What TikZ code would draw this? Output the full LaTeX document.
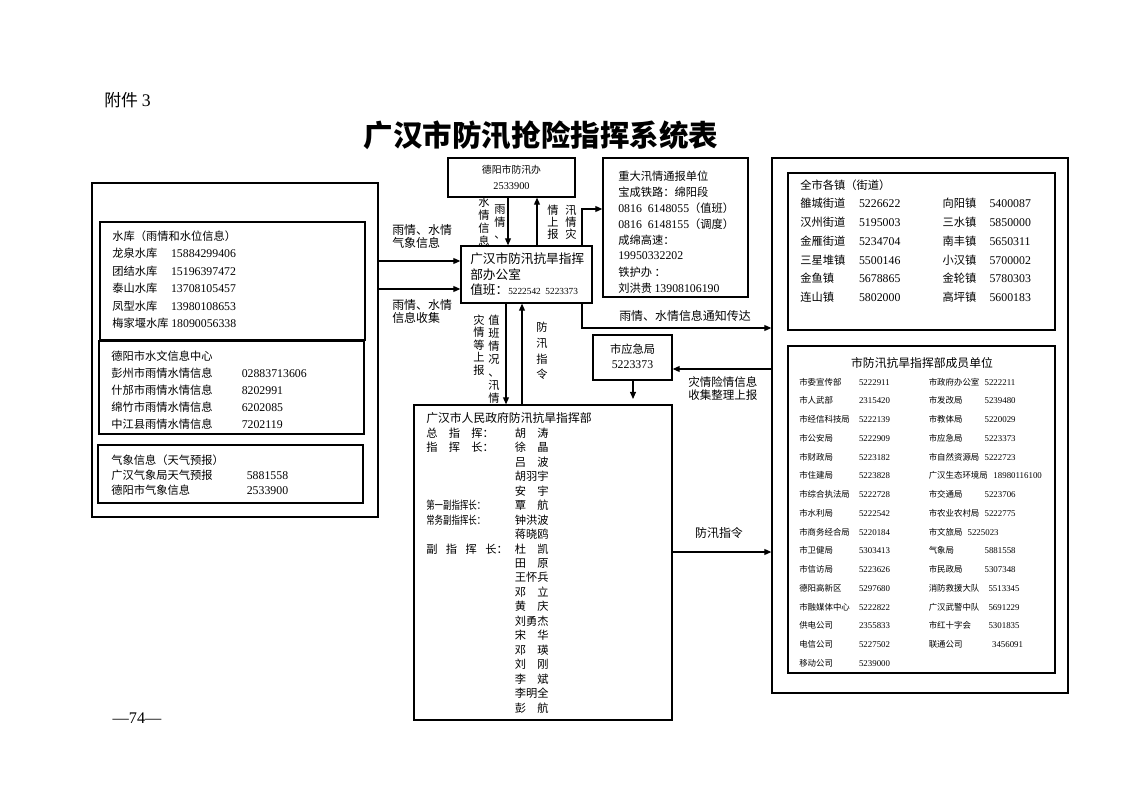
\documentclass[tikz,border=0pt]{standalone}
\usepackage{fontspec}
\setmainfont{Noto Sans CJK SC}
\newfontfamily\numfont[Scale=1.05]{Liberation Serif}
\usetikzlibrary{arrows.meta,fit}
\newcommand{\nm}[1]{{\numfont #1}}
\newcommand{\lcol}[2]{\makebox[#1][l]{#2}}
\tikzset{
  box/.style={draw, line width=0.9pt, inner sep=0pt},
  arr/.style={-{Triangle[length=5pt,width=4.2pt]}, line width=0.8pt},
  txt/.style={anchor=west, inner sep=0pt, font=\fontsize{8pt}{10pt}\selectfont},
  mtxt/.style={anchor=west, inner sep=0pt, font=\fontsize{6pt}{7pt}\selectfont},
  vcol/.style={align=center, inner sep=0pt, font=\fontsize{8pt}{#1}\selectfont},
  vcol/.default=8.6pt,
  lbl/.style={inner sep=0pt, align=left, font=\fontsize{8.5pt}{9.2pt}\selectfont}
}

\begin{document}
\begin{tikzpicture}[x=0.025cm,y=-0.025cm]
\useasboundingbox (0,0) rectangle (1122,793);

\node [anchor=west, inner sep=0pt, font=\fontsize{12pt}{14pt}\selectfont] (fj) at (104,100) {附件 \nm{3}};
\node [inner sep=0pt, font=\fontsize{21pt}{24pt}\selectfont\bfseries] (title) at (541,135) {广汉市防汛抢险指挥系统表};
\node [inner sep=0pt, font=\fontsize{11pt}{12pt}\selectfont] (page) at (137,718) {\nm{—74—}};

% boxes
\node [box, fit={(92,183) (378,517)}] (lout) {};
\node [box, fit={(100,222) (365,340)}] (lres) {};
\node [box, fit={(99,341) (364,434)}] (lhyd) {};
\node [box, fit={(98,445) (363,503)}] (lwea) {};
\node [box, fit={(448,158) (575,197)}] (dyfx) {};
\node [box, fit={(461,246) (592,303)}] (office) {};
\node [box, fit={(603,158) (748,297)}] (major) {};
\node [box, fit={(593,335) (672,380)}] (yjj) {};
\node [box, fit={(414,405) (672,720)}] (hq) {};
\node [box, fit={(772,158) (1068,693)}] (rout) {};
\node [box, fit={(788,173) (1055,330)}] (towns) {};
\node [box, fit={(788,346) (1055,673)}] (members) {};

% reservoirs
\node [txt] (r0) at (112,236) {水库（雨情和水位信息）};
\node [txt] (r1) at (112,253.5) {\lcol{41.8pt}{龙泉水库}\nm{15884299406}};
\node [txt] (r2) at (112,271) {\lcol{41.8pt}{团结水库}\nm{15196397472}};
\node [txt] (r3) at (112,288.5) {\lcol{41.8pt}{泰山水库}\nm{13708105457}};
\node [txt] (r4) at (112,306) {\lcol{41.8pt}{凤型水库}\nm{13980108653}};
\node [txt] (r5) at (112,323.5) {梅家堰水库\hspace{2pt}\nm{18090056338}};

\node [txt] (w0) at (111,356) {德阳市水文信息中心};
\node [txt] (w1) at (111,373) {\lcol{92.8pt}{彭州市雨情水情信息}\nm{02883713606}};
\node [txt] (w2) at (111,390) {\lcol{92.8pt}{什邡市雨情水情信息}\nm{8202991}};
\node [txt] (w3) at (111,407) {\lcol{92.8pt}{绵竹市雨情水情信息}\nm{6202085}};
\node [txt] (w4) at (111,424) {\lcol{92.8pt}{中江县雨情水情信息}\nm{7202119}};

\node [txt] (q0) at (111,460) {气象信息（天气预报）};
\node [txt] (q1) at (111,475) {\lcol{96.4pt}{广汉气象局天气预报}\nm{5881558}};
\node [txt] (q2) at (111,490) {\lcol{96.4pt}{德阳市气象信息}\nm{2533900}};

% centre column
\node [align=center, inner sep=0pt, font=\fontsize{7pt}{11.3pt}\selectfont] (dyt) at (511.5,177.5) {德阳市防汛办\\\nm{2533900}};

\node [txt, font=\fontsize{9pt}{10pt}\selectfont] (o1) at (470,259) {广汉市防汛抗旱指挥};
\node [txt, font=\fontsize{9pt}{10pt}\selectfont] (o2) at (470,274.5) {部办公室};
\node [txt, font=\fontsize{9pt}{10pt}\selectfont] (o3) at (470,289.5) {值班：{\fontsize{6.3pt}{7pt}\selectfont\nm{5222542\ \ 5223373}}};

\node [txt] (j0) at (618,176) {重大汛情通报单位};
\node [txt] (j1) at (618,192) {宝成铁路：绵阳段};
\node [txt] (j2) at (618,208) {\nm{0816\ \ 6148055}（值班）};
\node [txt] (j3) at (618,224) {\nm{0816\ \ 6148155}（调度）};
\node [txt] (j4) at (618,240) {成绵高速：};
\node [txt] (j5) at (618,256) {\nm{19950332202}};
\node [txt] (j6) at (618,272) {铁护办 ：};
\node [txt] (j7) at (618,288) {刘洪贵 \nm{13908106190}};

\node [align=center, inner sep=0pt, font=\fontsize{8pt}{10.6pt}\selectfont] (yjt) at (632.5,356.5) {市应急局\\\nm{5223373}};

% command headquarters
\node [txt, font=\fontsize{8.4pt}{10pt}\selectfont] (h) at (426,418) {广汉市人民政府防汛抗旱指挥部};
\node [txt] (h0) at (426,433.0) {\lcol{63pt}{总　指　挥：}胡　涛};
\node [txt] (h1) at (426,447.5) {\lcol{63pt}{指　挥　长：}徐　晶};
\node [txt] (h2) at (426,461.9) {\lcol{63pt}{}吕　波};
\node [txt] (h3) at (426,476.4) {\lcol{63pt}{}胡羽宇};
\node [txt] (h4) at (426,490.9) {\lcol{63pt}{}安　宇};
\node [txt] (h5) at (426,505.4) {\lcol{63pt}{\scalebox{0.75}[1]{第一副指挥长：}}覃　航};
\node [txt] (h6) at (426,519.8) {\lcol{63pt}{\scalebox{0.75}[1]{常务副指挥长：}}钟洪波};
\node [txt] (h7) at (426,534.3) {\lcol{63pt}{}蒋晓鸥};
\node [txt] (h8) at (426,548.8) {\lcol{63pt}{副\hspace{0.75em}指\hspace{0.75em}挥\hspace{0.75em}长：}杜　凯};
\node [txt] (h9) at (426,563.2) {\lcol{63pt}{}田　原};
\node [txt] (h10) at (426,577.7) {\lcol{63pt}{}王怀兵};
\node [txt] (h11) at (426,592.2) {\lcol{63pt}{}邓　立};
\node [txt] (h12) at (426,606.6) {\lcol{63pt}{}黄　庆};
\node [txt] (h13) at (426,621.1) {\lcol{63pt}{}刘勇杰};
\node [txt] (h14) at (426,635.6) {\lcol{63pt}{}宋　华};
\node [txt] (h15) at (426,650.1) {\lcol{63pt}{}邓　瑛};
\node [txt] (h16) at (426,664.5) {\lcol{63pt}{}刘　刚};
\node [txt] (h17) at (426,679.0) {\lcol{63pt}{}李　斌};
\node [txt] (h18) at (426,693.5) {\lcol{63pt}{}李明全};
\node [txt] (h19) at (426,707.9) {\lcol{63pt}{}彭　航};

% towns
\node [txt] (t0) at (800,185) {全市各镇（街道）};
\node [txt] (t1) at (800,203) {\lcol{41.8pt}{雒城街道}\lcol{59.5pt}{\nm{5226622}}\lcol{33.3pt}{向阳镇}\nm{5400087}};
\node [txt] (t2) at (800,222) {\lcol{41.8pt}{汉州街道}\lcol{59.5pt}{\nm{5195003}}\lcol{33.3pt}{三水镇}\nm{5850000}};
\node [txt] (t3) at (800,241) {\lcol{41.8pt}{金雁街道}\lcol{59.5pt}{\nm{5234704}}\lcol{33.3pt}{南丰镇}\nm{5650311}};
\node [txt] (t4) at (800,260) {\lcol{41.8pt}{三星堆镇}\lcol{59.5pt}{\nm{5500146}}\lcol{33.3pt}{小汉镇}\nm{5700002}};
\node [txt] (t5) at (800,278.5) {\lcol{41.8pt}{金鱼镇}\lcol{59.5pt}{\nm{5678865}}\lcol{33.3pt}{金轮镇}\nm{5780303}};
\node [txt] (t6) at (800,297) {\lcol{41.8pt}{连山镇}\lcol{59.5pt}{\nm{5802000}}\lcol{33.3pt}{高坪镇}\nm{5600183}};

% member units
\node [inner sep=0pt, font=\fontsize{8.4pt}{10pt}\selectfont] (m) at (922,363) {市防汛抗旱指挥部成员单位};
\node [mtxt] (m0) at (799,382.0) {\lcol{42.5pt}{市委宣传部}\lcol{49.6pt}{\nm{5222911}}\lcol{39.7pt}{市政府办公室}\nm{5222211}};
\node [mtxt] (m1) at (799,400.7) {\lcol{42.5pt}{市人武部}\lcol{49.6pt}{\nm{2315420}}\lcol{39.7pt}{市发改局}\nm{5239480}};
\node [mtxt] (m2) at (799,419.5) {\lcol{42.5pt}{市经信科技局}\lcol{49.6pt}{\nm{5222139}}\lcol{39.7pt}{市教体局}\nm{5220029}};
\node [mtxt] (m3) at (799,438.2) {\lcol{42.5pt}{市公安局}\lcol{49.6pt}{\nm{5222909}}\lcol{39.7pt}{市应急局}\nm{5223373}};
\node [mtxt] (m4) at (799,456.9) {\lcol{42.5pt}{市财政局}\lcol{49.6pt}{\nm{5223182}}\lcol{39.7pt}{市自然资源局}\nm{5222723}};
\node [mtxt] (m5) at (799,475.7) {\lcol{42.5pt}{市住建局}\lcol{49.6pt}{\nm{5223828}}\lcol{46pt}{广汉生态环境局}\nm{18980116100}};
\node [mtxt] (m6) at (799,494.4) {\lcol{42.5pt}{市综合执法局}\lcol{49.6pt}{\nm{5222728}}\lcol{39.7pt}{市交通局}\nm{5223706}};
\node [mtxt] (m7) at (799,513.1) {\lcol{42.5pt}{市水利局}\lcol{49.6pt}{\nm{5222542}}\lcol{39.7pt}{市农业农村局}\nm{5222775}};
\node [mtxt] (m8) at (799,531.8) {\lcol{42.5pt}{市商务经合局}\lcol{49.6pt}{\nm{5220184}}\lcol{27.6pt}{市文旅局}\nm{5225023}};
\node [mtxt] (m9) at (799,550.6) {\lcol{42.5pt}{市卫健局}\lcol{49.6pt}{\nm{5303413}}\lcol{39.7pt}{气象局}\nm{5881558}};
\node [mtxt] (m10) at (799,569.3) {\lcol{42.5pt}{市信访局}\lcol{49.6pt}{\nm{5223626}}\lcol{39.7pt}{市民政局}\nm{5307348}};
\node [mtxt] (m11) at (799,588.0) {\lcol{42.5pt}{德阳高新区}\lcol{49.6pt}{\nm{5297680}}\lcol{42.5pt}{消防救援大队}\nm{5513345}};
\node [mtxt] (m12) at (799,606.8) {\lcol{42.5pt}{市融媒体中心}\lcol{49.6pt}{\nm{5222822}}\lcol{42.5pt}{广汉武警中队}\nm{5691229}};
\node [mtxt] (m13) at (799,625.5) {\lcol{42.5pt}{供电公司}\lcol{49.6pt}{\nm{2355833}}\lcol{42.5pt}{市红十字会}\nm{5301835}};
\node [mtxt] (m14) at (799,644.2) {\lcol{42.5pt}{电信公司}\lcol{49.6pt}{\nm{5227502}}\lcol{45pt}{联通公司}\nm{3456091}};
\node [mtxt] (m15) at (799,662.9) {\lcol{42.5pt}{移动公司}\nm{5239000}};

% connector labels
\node [lbl, anchor=west] (lqx) at (392,236.5) {雨情、水情\\气象信息};
\node [lbl, anchor=west] (lqs) at (392,311.5) {雨情、水情\\信息收集};
\node [vcol=9.2pt] (vsq) at (484,222) {水\\情\\信\\息};
\node [vcol] (vyq) at (500,222) {雨\\情\\、};
\node [vcol] (vqs) at (553,222) {情\\上\\报};
\node [vcol] (vxq) at (571,222) {汛\\情\\灾};
\node [vcol=8.9pt] (vzq) at (479,345) {灾\\情\\等\\上\\报};
\node [vcol=9.2pt] (vzb) at (494,359) {值\\班\\情\\况\\、\\汛\\情};
\node [vcol=11.1pt] (vfx) at (542,351) {防\\汛\\指\\令};
\node [lbl] (ltz) at (685,316) {雨情、水情信息通知传达};
\node [lbl, anchor=west, font=\fontsize{8.2pt}{9.2pt}\selectfont] (lzq) at (688,388.5) {灾情险情信息\\收集整理上报};
\node [lbl] (lfx) at (719,533) {防汛指令};

% connectors
\coordinate (ya) at (0,261);
\coordinate (yb) at (0,289);
\coordinate (xa) at (508,0);
\coordinate (xb) at (537,0);
\coordinate (xc) at (582,0);
\coordinate (yc) at (0,209);
\coordinate (yd) at (0,328);
\coordinate (xd) at (506,0);
\coordinate (xe) at (522,0);
\coordinate (ye) at (0,369);
\coordinate (xf) at (633,0);
\coordinate (yf) at (0,552);
\coordinate (yjjend) at (633,399);

\draw [arr] (lout.east |- ya) -- (office.west |- ya);
\draw [arr] (lout.east |- yb) -- (office.west |- yb);
\draw [arr] (dyfx.south -| xa) -- (office.north -| xa);
\draw [arr] (office.north -| xb) -- (dyfx.south -| xb);
\draw [arr] (office.north -| xc) |- (major.west |- yc);
\draw [arr] (office.south -| xc) |- (rout.west |- yd);
\draw [arr] (office.south -| xd) -- (hq.north -| xd);
\draw [arr] (hq.north -| xe) -- (office.south -| xe);
\draw [arr] (rout.west |- ye) -- (yjj.east |- ye);
\draw [arr] (yjj.south -| xf) -- (yjjend);
\draw [arr] (hq.east |- yf) -- (rout.west |- yf);
\end{tikzpicture}
\end{document}
